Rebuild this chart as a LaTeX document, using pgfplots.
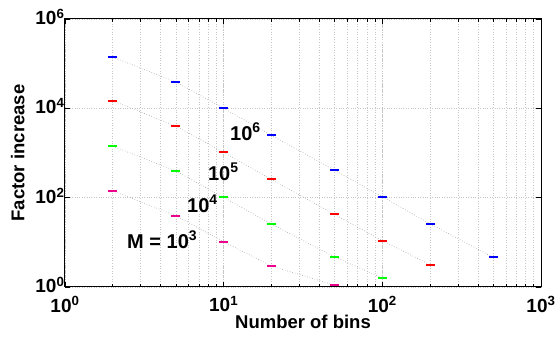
\documentclass[border=0pt]{standalone}
\usepackage{pgfplots}
\pgfplotsset{compat=1.18}
\usepackage{fontspec}
\setmainfont{Liberation Sans}[BoldFont={Liberation Sans Bold}]
\newcommand{\lab}[2]{#1\textsuperscript{#2}}
\begin{document}
\begin{tikzpicture}
\begin{axis}[
  scale only axis,
  width=476pt, height=268pt,
  xmode=log, ymode=log,
  xmin=1, xmax=1000, ymin=1, ymax=1e6,
  xtick={1,10,100,1000},
  xticklabels={\lab{10}{0},\lab{10}{1},\lab{10}{2},\lab{10}{3}},
  ytick={1,100,10000,1000000},
  yticklabels={\lab{10}{0},\lab{10}{2},\lab{10}{4},\lab{10}{6}},
  tick label style={font=\fontsize{19}{20}\selectfont\bfseries},
  xticklabel style={yshift=-6pt},
  yticklabel style={xshift=3pt, yshift=2pt},
  label style={font=\fontsize{18.5}{20}\selectfont\bfseries},
  xlabel={Number of bins},
  ylabel={Factor increase},
  xlabel style={yshift=4pt},
  ylabel style={yshift=4pt},
  xmajorgrids, xminorgrids, ymajorgrids, yminorgrids=false,
  minor y tick style={draw=none},
  grid style={gray!45, dotted, line width=0.6pt},
  minor grid style={gray!45, dotted, line width=0.6pt},
  axis line style={line width=1pt},
  major tick length=5pt, minor tick length=3pt,
  tick style={black, line width=0.6pt},
  clip=false,
]
\addplot[gray!75, dotted, line width=0.6pt, mark=-, mark size=4.5pt, mark options={solid, blue, line width=2pt}]
  coordinates {(2,1.4e5) (5,3.9e4) (10,1.0e4) (20,2.5e3) (50,410) (100,105) (200,26) (500,4.6)};
\addplot[gray!75, dotted, line width=0.6pt, mark=-, mark size=4.5pt, mark options={solid, red, line width=2pt}]
  coordinates {(2,1.47e4) (5,4.0e3) (10,1.03e3) (20,257) (50,42) (100,10.9) (200,3.15)};
\addplot[gray!75, dotted, line width=0.6pt, mark=-, mark size=4.5pt, mark options={solid, green, line width=2pt}]
  coordinates {(2,1.42e3) (5,395) (10,101) (20,25.7) (50,4.7) (100,1.6)};
\addplot[gray!75, dotted, line width=0.6pt, mark=-, mark size=4.5pt, mark options={solid, magenta, line width=2pt}]
  coordinates {(2,142) (5,39.5) (10,10.3) (20,2.95) (50,1.1)};
\tikzset{dl/.style={font=\fontsize{20}{21}\selectfont\bfseries, anchor=base west, inner sep=0pt}}
\node[dl] at (axis cs:10.96,1945) {\lab{10}{6}};
\node[dl] at (axis cs:7.96,247.6) {\lab{10}{5}};
\node[dl] at (axis cs:5.87,47.6) {\lab{10}{4}};
\node[dl] at (axis cs:2.459,7.46) {M = \lab{10}{3}};
\end{axis}
\pgfresetboundingbox
\path ([xshift=-65pt,yshift=-52pt]current axis.south west) rectangle ([xshift=17pt,yshift=19pt]current axis.north east);
\end{tikzpicture}
\end{document}
